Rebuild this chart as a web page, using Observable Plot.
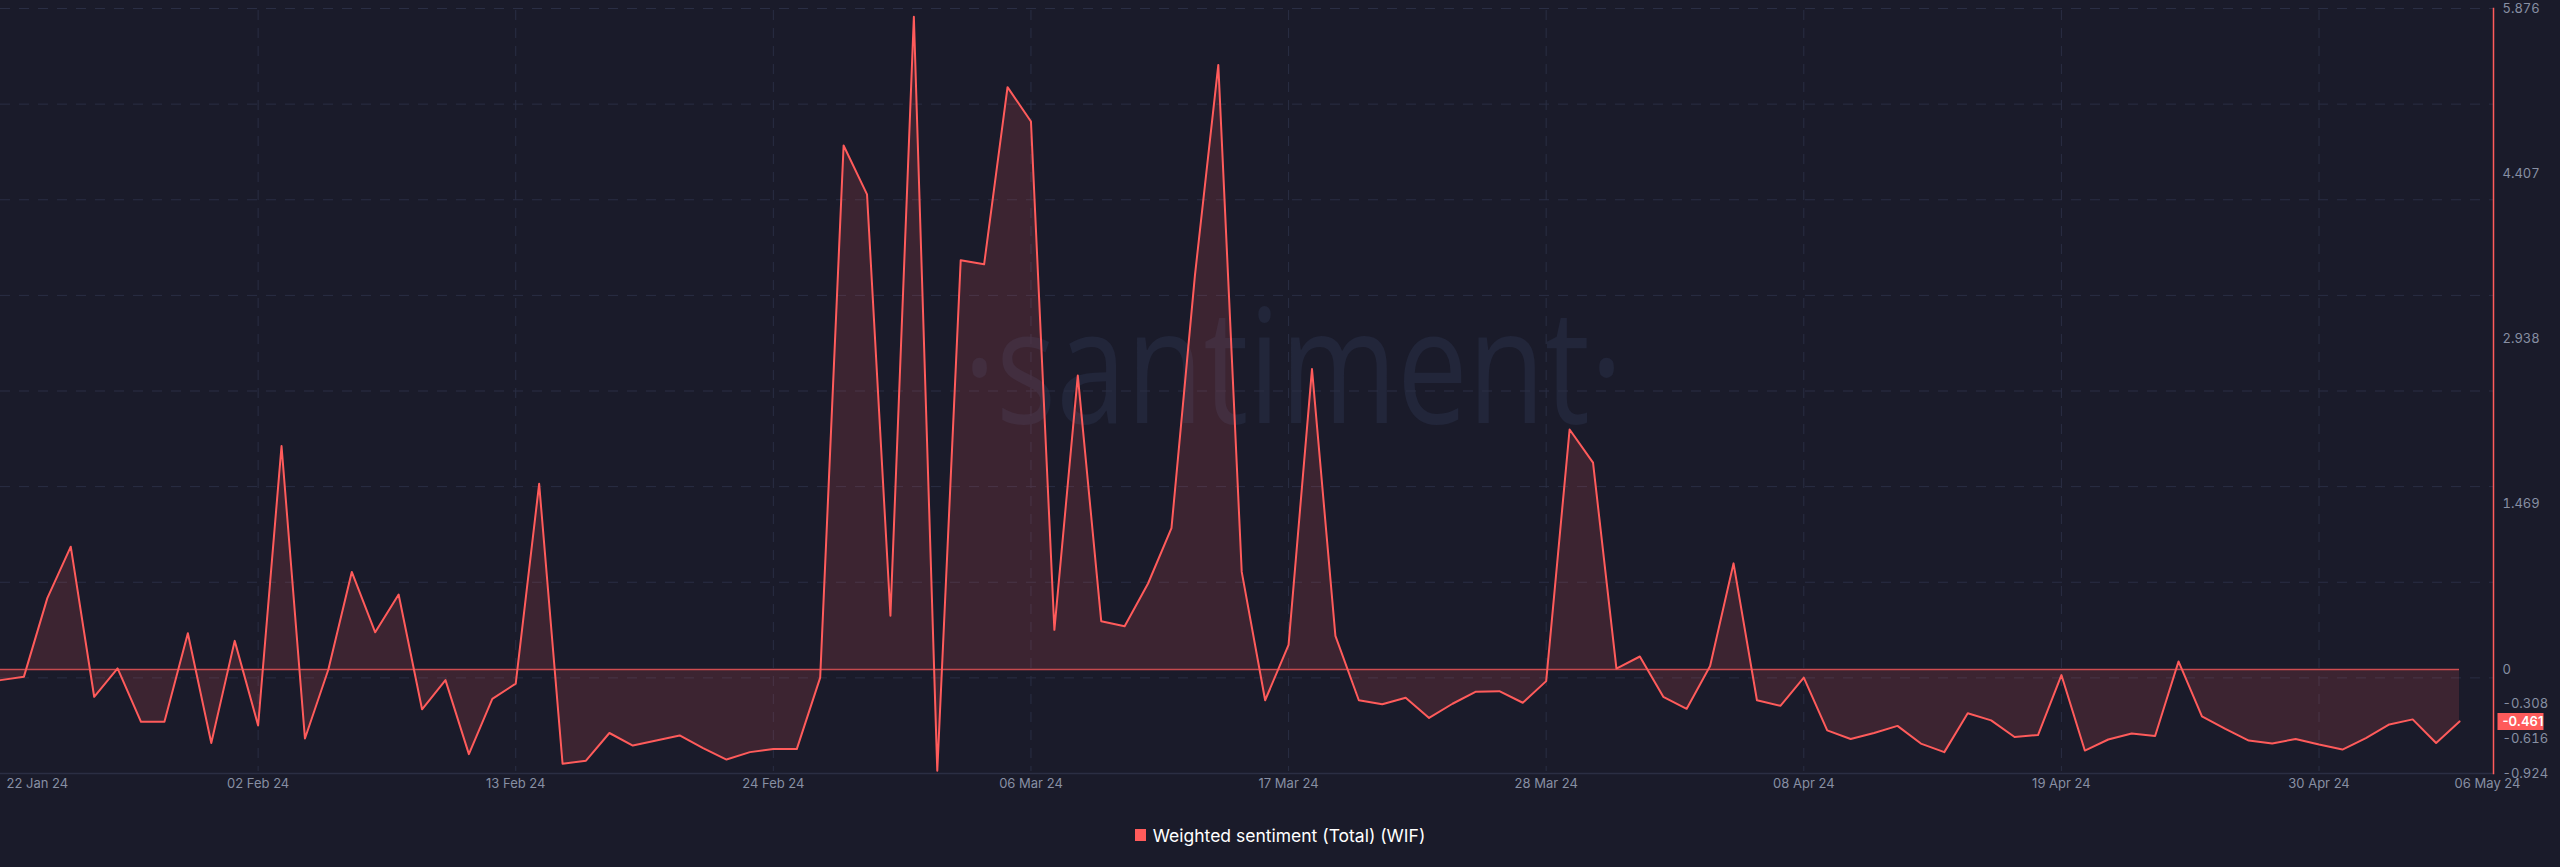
<!DOCTYPE html>
<html>
<head>
<meta charset="utf-8">
<script src="https://cdn.jsdelivr.net/npm/d3@7"></script>
<script src="https://cdn.jsdelivr.net/npm/@observablehq/plot@0.6"></script>
<style>
  html, body { margin: 0; padding: 0; background: #1a1b2a; }
  #legend { height: 50px; display: flex; justify-content: center; align-items: center;
    font-family: Inter, "Liberation Sans", sans-serif; font-size: 17.5px; color: #ffffff; }
  #legend .sw { display: inline-block; width: 11px; height: 12px; background: #ff5b5b; margin-right: 7px; }
</style>
</head>
<body>
<div id="chart"></div>
<div id="legend"></div>
<script>
// ---- data ----
const startDate = "2024-01-22";
const xDomainEnd = "2024-05-07T10:48:00Z";
const sentiment = [
  -0.094, -0.063, 0.635, 1.092, -0.242, 0.01, -0.465, -0.465, 0.322, -0.653,
  0.255, -0.497, 1.987, -0.613, 0.0, 0.868, 0.331, 0.667, -0.353, -0.094,
  -0.752, -0.26, -0.125, 1.651, -0.837, -0.81, -0.564, -0.676, -0.631, -0.586,
  -0.698, -0.80, -0.734, -0.707, -0.707, -0.072, 4.658, 4.224, 0.479, 5.803,
  -0.90, 3.638, 3.602, 5.177, 4.872, 0.353, 2.613, 0.43, 0.385, 0.765,
  1.257, 3.50, 5.374, 0.868, -0.273, 0.219, 2.671, 0.30, -0.273, -0.309,
  -0.25, -0.43, -0.304, -0.197, -0.192, -0.295, -0.103, 2.134, 1.839, 0.009,
  0.116, -0.242, -0.349, 0.031, 0.944, -0.273, -0.322, -0.072, -0.541, -0.617,
  -0.564, -0.501, -0.658, -0.734, -0.389, -0.452, -0.60, -0.582, -0.049, -0.72,
  -0.622, -0.568, -0.591, 0.072, -0.416, -0.528, -0.631, -0.658, -0.617, -0.667,
  -0.711, -0.609, -0.488, -0.443, -0.653, -0.461
];
const xTickDates = ["2024-01-22","2024-02-02","2024-02-13","2024-02-24","2024-03-06","2024-03-17",
  "2024-03-28","2024-04-08","2024-04-19","2024-04-30","2024-05-06"];
const xTickLabels = ["22 Jan 24","02 Feb 24","13 Feb 24","24 Feb 24","06 Mar 24","17 Mar 24",
  "28 Mar 24","08 Apr 24","19 Apr 24","30 Apr 24","06 May 24"];
const yTickValues = [5.876, 4.407, 2.938, 1.469, 0, -0.308, -0.616, -0.924];
const yTickLabels = ["5.876", "4.407", "2.938", "1.469", "0", "-0.308", "-0.616", "-0.924"];
const yGridValues = [-0.074, 0.776, 1.626, 2.476, 3.326, 4.176, 5.026, 5.876];
const yDomain = [-0.924, 5.876];
const seriesName = "Weighted sentiment (Total) (WIF)";
const watermark = "·santiment·";

// ---- build ----
const dates = sentiment.map((_, i) => d3.utcDay.offset(new Date(startDate + "T00:00:00Z"), i));
const data = sentiment.map((v, i) => ({date: dates[i], value: v}));
const ticks = xTickDates.map((d, i) => ({date: new Date(d + "T00:00:00Z"), label: xTickLabels[i]}));
const last = data[data.length - 1];

const RED = "#ff5b5b";
const GRID = "#2a2e44";
const LABEL = "#878fa3";
const W = 2560, H = 810, BOTTOM = 773;

const badgeSymbol = { draw(ctx) { ctx.rect(-23, -8.5, 46, 17); } };

const chart = Plot.plot({
  width: W, height: H,
  marginTop: 8, marginBottom: H - BOTTOM, marginLeft: 0, marginRight: 67,
  x: {type: "utc", domain: [new Date(startDate + "T00:00:00Z"), new Date(xDomainEnd)], axis: null},
  y: {domain: yDomain, axis: null},
  style: {background: "#1a1b2a", fontFamily: "Inter, 'Liberation Sans', sans-serif", overflow: "visible"},
  marks: [
    Plot.text([watermark], {frameAnchor: "middle", dx: 46, dy: 32, lineAnchor: "bottom",
      fontSize: 160, fontWeight: 400, fontFamily: "'Open Sans', sans-serif", fill: "#22263a"}),
    Plot.ruleY(yGridValues, {stroke: GRID, strokeDasharray: "10,9"}),
    Plot.ruleX(ticks.slice(1, -1), {x: "date", stroke: GRID, strokeDasharray: "10,8", inset: 2}),
    Plot.areaY(data, {x: "date", y1: 0, y2: "value", fill: RED, fillOpacity: 0.15}),
    Plot.ruleY([0], {x1: dates[0], x2: dates[dates.length - 1], stroke: RED, strokeOpacity: 0.75, strokeWidth: 1.5}),
    Plot.lineY(data, {x: "date", y: "value", stroke: RED, strokeWidth: 2}),
    Plot.frame({anchor: "bottom", stroke: "#2b2e43", strokeWidth: 1.5}),
    Plot.frame({anchor: "right", stroke: RED, strokeWidth: 1.5}),
    Plot.axisY(yTickValues, {anchor: "right", tickSize: 0, tickPadding: 9, textAnchor: "start",
      tickFormat: (d, i) => yTickLabels[i], fill: LABEL, fontSize: 13, label: null}),
    Plot.text(ticks.slice(1, -1), {x: "date", text: "label", frameAnchor: "bottom", dy: 14, fill: LABEL, fontSize: 13}),
    Plot.text(ticks.slice(0, 1), {x: "date", text: "label", frameAnchor: "bottom", dy: 14, dx: 6, textAnchor: "start", fill: LABEL, fontSize: 13}),
    Plot.text(ticks.slice(-1), {x: "date", text: "label", frameAnchor: "bottom", dy: 14, dx: 28, fill: LABEL, fontSize: 13}),
    Plot.dot([last], {y: "value", frameAnchor: "right", dx: 27, symbol: badgeSymbol, fill: RED, stroke: null}),
    Plot.text([last], {y: "value", frameAnchor: "right", dx: 9, textAnchor: "start",
      text: d => d.value.toFixed(3), fill: "#ffffff", fontWeight: 600, fontSize: 13})
  ]
});
for (const t of chart.querySelectorAll("text")) {
  if (t.textContent === watermark) {
    t.setAttribute("textLength", "660");
    t.setAttribute("lengthAdjust", "spacingAndGlyphs");
  }
}
document.getElementById("chart").appendChild(chart);

const lg = document.getElementById("legend");
const sw = document.createElement("span"); sw.className = "sw";
const tx = document.createElement("span"); tx.textContent = seriesName;
lg.appendChild(sw); lg.appendChild(tx);
</script>
</body>
</html>
